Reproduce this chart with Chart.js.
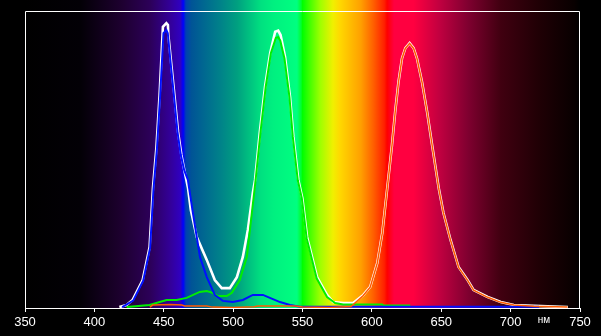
<!DOCTYPE html>
<html>
<head>
<meta charset="utf-8">
<script src="https://cdn.jsdelivr.net/npm/chart.js@4/dist/chart.umd.min.js"></script>
<style>
  html, body { margin: 0; padding: 0; background: #000; }
  #chart1 { display: block; }
</style>
</head>
<body>
<canvas id="chart1" width="601" height="336"></canvas>
<script>
// spectrum.js

// --- data (wavelength in nm, relative intensity 0..100) ---
const whiteNm = [418, 423.2, 427.5, 434.8, 439.8, 442.2, 444.7, 447, 449.4, 451.9, 453, 453.3, 455.5, 457.9, 460.3, 462.7, 465.1, 467.5, 469.5, 473.8, 481, 486.8, 491.8, 497.6, 502.7, 507, 510.6, 514.2, 515.8, 519.4, 523, 526.7, 530.3, 532.5, 534.2, 537.4, 541, 543.4, 547, 549.9, 553.3, 560.5, 567.7, 572.1, 579.3, 586.5, 593.8, 598.8, 603.9, 607.5, 610.8, 614.5, 616.8, 619.2, 621.7, 624.1, 627.2, 630.1, 632.5, 636.1, 639.8, 643.4, 648.2, 651.6, 656.7, 662.5, 669, 673.3, 683.5, 692.9, 702.3, 716.8, 741.3];
const whiteVal = [0.3, 1.0, 2.7, 9.4, 20.5, 40.4, 53.9, 71.7, 94.7, 95.9, 95.3, 92.0, 81.8, 70.7, 59.3, 51.5, 45.8, 40.4, 33.0, 23.9, 16.2, 9.4, 6.7, 6.7, 10.4, 17.2, 26.3, 38.7, 43.1, 59.9, 74.5, 85.8, 93.0, 93.4, 91.9, 84.6, 71.1, 57.7, 43.1, 37.0, 23.9, 10.4, 4.4, 2.0, 1.7, 1.7, 4.4, 7.1, 15.2, 25.3, 39.2, 54.9, 66.1, 76.2, 84.1, 87.5, 89.2, 87.5, 84.1, 76.2, 66.1, 54.9, 40.3, 32.0, 22.9, 13.8, 9.4, 6.1, 3.7, 2.0, 1.0, 0.7, 0.3];

const blueNm = [420, 428, 435.2, 440.2, 442.6, 445.1, 447.4, 449.8, 451.9, 452.9, 455.1, 457.5, 459.9, 462.3, 464.7, 467.4, 471, 476.1, 481, 486.8, 492.6, 499.8, 507, 514.2, 519.3, 521.5, 526.5, 533.8, 541, 548.2, 600, 660, 720.5];
const blueVal = [0.3, 2.5, 9.2, 20.3, 40.0, 53.6, 71.4, 92.5, 93.6, 92.5, 81.8, 70.7, 59.3, 51.5, 46.5, 43.1, 32.0, 17.2, 10.4, 4.4, 2.4, 2.0, 2.7, 4.4, 4.4, 4.4, 3.4, 2.0, 1.0, 0.4, 0.4, 0.4, 0.4];

const greenNm = [423.3, 439.8, 447.1, 452.1, 459.3, 466.5, 475.9, 481, 485.3, 488.9, 495.4, 499.1, 504.8, 509.9, 513.5, 516.2, 519.9, 523.5, 527.2, 530.8, 532.5, 534, 537, 540.6, 543, 546.6, 549.5, 553, 560.2, 567.7, 573.5, 579.3, 607.5, 608.2, 627.7];
const greenVal = [0.3, 1.0, 2.0, 2.7, 2.7, 3.4, 5.4, 5.7, 5.1, 4.0, 4.0, 5.1, 9.4, 17.2, 32.0, 43.1, 59.9, 74.5, 85.8, 91.0, 91.2, 90.0, 84.0, 71.0, 57.7, 43.0, 37.0, 23.5, 10.0, 3.7, 1.7, 1.2, 1.2, 0.8, 0.8];

const redNm = [440, 442, 455, 463, 465, 481, 485, 500, 515, 518, 545, 550, 570, 585, 593.8, 598.8, 603.9, 607.5, 610.8, 614.5, 616.8, 619.2, 621.7, 624.1, 627.2, 630.1, 632.5, 636.1, 639.8, 643.4, 648.2, 651.6, 656.7, 662.5, 669, 673.3, 683.5, 692.9, 702.3, 716.8, 741];
const redVal = [0.3, 1.0, 1.2, 1.0, 0.7, 0.7, 0.3, 0.2, 0.4, 0.7, 0.7, 0.3, 0.2, 0.5, 4.2, 7.0, 15.1, 25.2, 39.1, 54.8, 66.0, 76.1, 84.0, 87.4, 89.1, 87.4, 84.0, 76.1, 66.0, 54.8, 40.2, 31.9, 22.8, 13.7, 9.3, 6.0, 3.6, 1.9, 1.0, 0.6, 0.3];

const xTicks = [350, 400, 450, 500, 550, 600, 650, 700, 750];
const unitLabel = 'нм';

// background rainbow, stops given as [nm, colour]
const spectrumStops = [
  [350, '#000000'], [390, '#030006'], [400, '#0c0014'], [420, '#1e0030'],
  [440, '#2c0058'], [455, '#33009a'], [462, '#3000c0'], [464, '#0000ff'],
  [466, '#0040b0'], [470, '#005496'], [490, '#00808a'], [503, '#00a080'],
  [520, '#00e080'], [529, '#00f080'], [546, '#00ff80'], [549, '#00ff30'],
  [550, '#00ff00'], [555, '#40ff00'], [563, '#a0ff00'], [572, '#f0f000'],
  [577, '#ffd800'], [592, '#ffa000'], [601, '#ff6000'], [609, '#ff2000'],
  [611, '#ff0000'], [616, '#ff0040'], [630, '#ff0040'], [649, '#c00040'],
  [669, '#800030'], [693, '#400010'], [720, '#200005'], [746, '#080000'],
  [750, '#000000']
];

let chart1Instance = null;

function toPoints(xs, ys) {
  return xs.map((x, i) => ({ x: x, y: ys[i] }));
}

// paints the spectrum behind the plot, from the canvas top down to the axis
const spectrumBackground = {
  id: 'spectrumBackground',
  beforeDraw(chart) {
    const { ctx, chartArea, scales } = chart;
    const xs = scales.x;
    const x0 = xs.getPixelForValue(350);
    const x1 = xs.getPixelForValue(750);
    const grad = ctx.createLinearGradient(x0, 0, x1, 0);
    spectrumStops.forEach(([nm, col]) => {
      grad.addColorStop((nm - 350) / 400, col);
    });
    ctx.save();
    ctx.fillStyle = '#000';
    ctx.fillRect(0, 0, chart.width, chart.height);
    ctx.fillStyle = grad;
    ctx.fillRect(x0, 0, x1 - x0, chartArea.bottom);
    ctx.restore();
  }
};

// white frame and the unit label
const plotFrame = {
  id: 'plotFrame',
  afterDraw(chart) {
    const { ctx, chartArea } = chart;
    const l = Math.round(chartArea.left) + 0.5;
    const r = Math.round(chartArea.right) - 0.5;
    const t = Math.round(chartArea.top) + 0.5;
    const b = Math.round(chartArea.bottom);
    ctx.save();
    ctx.strokeStyle = '#fff';
    ctx.lineWidth = 1;
    ctx.beginPath();
    ctx.moveTo(l, b);
    ctx.lineTo(l, t);
    ctx.lineTo(r, t);
    ctx.lineTo(r, b);
    ctx.stroke();
    ctx.fillStyle = '#fff';
    ctx.font = '10px "Liberation Sans", Arial, sans-serif';
    ctx.textAlign = 'center';
    ctx.textBaseline = 'middle';
    ctx.fillText(unitLabel, chart.scales.x.getPixelForValue(724), b + 12);
    ctx.restore();
  }
};

function renderChart1() {
  const ctx = document.getElementById('chart1').getContext('2d');

  // STEP 1: drop an old instance
  if (chart1Instance) {
    chart1Instance.destroy();
  }

  const lineStyle = { borderWidth: 2, pointRadius: 0, tension: 0, fill: false };

  // STEP 2: build the chart
  chart1Instance = new Chart(ctx, {
    type: 'line',
    data: {
      datasets: [
        { label: 'red', data: toPoints(redNm, redVal), borderColor: '#ff5a00', ...lineStyle, borderWidth: 1.5 },
        { label: 'blue', data: toPoints(blueNm, blueVal), borderColor: '#0010ff', ...lineStyle },
        { label: 'green', data: toPoints(greenNm, greenVal), borderColor: '#00ee00', ...lineStyle },
        { label: 'white', data: toPoints(whiteNm, whiteVal), borderColor: '#ffffff', ...lineStyle, borderWidth: 2.6 }
      ]
    },
    options: {
      responsive: false,
      animation: false,
      layout: { padding: { left: 25, right: 21, top: 11, bottom: 0 } },
      plugins: {
        legend: { display: false },
        tooltip: { enabled: false }
      },
      scales: {
        x: {
          type: 'linear',
          min: 350,
          max: 750,
          afterBuildTicks: (scale) => {
            scale.ticks = xTicks.map(v => ({ value: v }));
          },
          afterFit: (scale) => {
            scale.height = 28;
          },
          ticks: {
            color: '#ffffff',
            padding: 3,
            maxRotation: 0,
            autoSkip: false,
            font: { family: '"Liberation Sans", Arial, sans-serif', size: 13 }
          },
          grid: { drawOnChartArea: false, color: '#ffffff', tickLength: 4 },
          border: { color: '#ffffff', width: 1 }
        },
        y: {
          display: false,
          min: 0,
          max: 100
        }
      }
    },
    plugins: [spectrumBackground, plotFrame]
  });
}

renderChart1();
</script>
</body>
</html>
